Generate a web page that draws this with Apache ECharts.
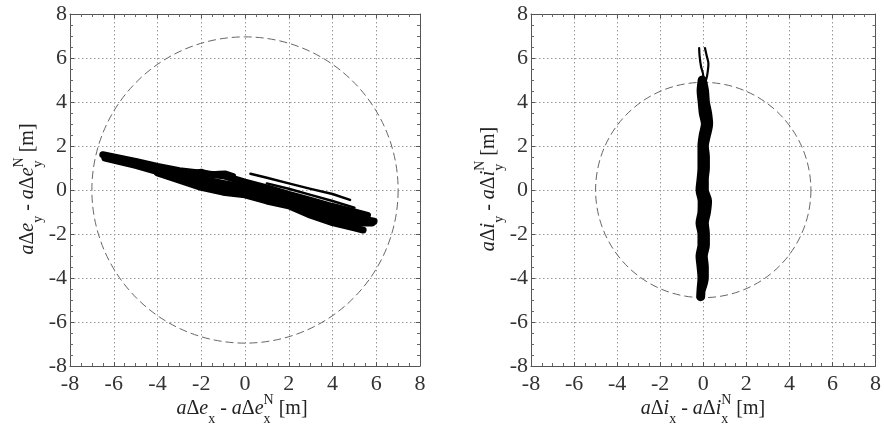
<!DOCTYPE html>
<html>
<head>
<meta charset="utf-8">
<script src="https://cdn.jsdelivr.net/npm/echarts@6/dist/echarts.min.js"></script>
<style>
  html, body { margin: 0; padding: 0; background: #fff; }
  #main { width: 884px; height: 429px; }
</style>
</head>
<body>
<div id="main"></div>
<script>
// axis range and ticks (both panels)
var axisMin = -8, axisMax = 8, axisStep = 2;

// left panel: eccentricity vector relative error, overlapping tracks
var eTrackA = [[-6.5,1.6],[-5,1.3],[-4,1.07],[-3,0.88],[-2,0.76],[-1,0.65],[0,0.36],[1,0.1],[2,-0.2],[3,-0.47],[4,-0.75],[5,-1.0],[5.6,-1.15]];
var eTrackB = [[-6.4,1.5],[-5,1.2],[-4,0.95],[-3,0.7],[-2,0.5],[-1,0.3],[0,0.12],[1,-0.15],[2,-0.42],[3,-0.72],[4,-1.0],[5,-1.25],[5.9,-1.42]];
var eTrackC = [[-6.4,1.45],[-5,1.12],[-4,0.84],[-3,0.55],[-2,0.28],[-1,0.05],[0,-0.14],[1,-0.38],[2,-0.62],[3,-0.95],[4,-1.25],[5,-1.5],[5.8,-1.5]];
var eTrackD = [[-4,0.78],[-3,0.45],[-2,0.12],[-1,-0.1],[0,-0.22],[1,-0.5],[2,-0.72],[3,-1.15],[4,-1.48],[5,-1.72],[5.4,-1.82]];
var eBump = [[-2.3,0.82],[-2,0.88],[-1.6,0.75],[-1.2,0.78],[-0.9,0.8],[-0.5,0.66]];
var eThin1 = [[0.25,0.74],[1,0.56],[2,0.3],[3,0.05],[4,-0.18],[4.8,-0.45]];
var eThin2 = [[1.0,0.3],[2,0.06],[3,-0.22],[4,-0.5],[5,-0.8]];
var eCircle = [[0, 0, 7]];

// right panel: inclination vector relative error
var iTrack1 = [[-0.05,5.0],[-0.1,4.5],[-0.05,4.0],[0.0,3.5],[0.1,3.0],[0.0,2.5],[-0.06,2.0],[-0.06,1.5],[-0.06,1.0],[-0.1,0.5],[-0.15,0.0],[-0.05,-0.5],[-0.06,-1.0],[-0.15,-1.5],[-0.06,-2.0],[-0.06,-2.5],[-0.15,-3.0],[-0.1,-3.5],[-0.06,-4.0],[-0.1,-4.5],[-0.12,-4.85]];
var iTrack2 = [[-0.02,4.9],[0.06,4.5],[0.1,4.0],[0.2,3.5],[0.25,3.0],[0.15,2.5],[0.05,2.0],[0.1,1.5],[0.1,1.0],[0.05,0.5],[0.05,0.0],[0.2,-0.5],[0.15,-1.0],[0.05,-1.5],[0.1,-2.0],[0.1,-2.5],[0.0,-3.0],[0.05,-3.5],[0.05,-4.0],[-0.08,-4.5]];
var iTail1 = [[-0.19,6.45],[-0.17,6.1],[-0.1,5.6],[0.0,5.2],[-0.05,4.9]];
var iTail2 = [[0.08,6.45],[0.16,6.1],[0.24,5.75],[0.18,5.2],[0.1,4.9]];
var iCircle = [[0, 0, 5]];

var serif = 'Liberation Serif, Times New Roman, DejaVu Serif, serif';
var chart = echarts.init(document.getElementById('main'));

function makeAxes(dim, gridIndex) {
    var main = {
        type: 'value', gridIndex: gridIndex, min: axisMin, max: axisMax, interval: axisStep,
        axisLine: { show: true, onZero: false, lineStyle: { color: '#555', width: 1 } },
        axisTick: { show: true, inside: true, length: 4, lineStyle: { color: '#555' } },
        minorTick: { show: true, splitNumber: 4, length: 3, lineStyle: { color: '#666' } },
        splitLine: { show: true, lineStyle: { color: '#999', type: [1.5, 2.5], width: 1 } },
        axisLabel: {
            fontFamily: serif, fontSize: 22, color: '#333',
            margin: dim === 'x' ? 7 : 3, showMinLabel: true, showMaxLabel: true
        },
        position: dim === 'x' ? 'bottom' : 'left'
    };
    var mirror = {
        type: 'value', gridIndex: gridIndex, min: axisMin, max: axisMax, interval: axisStep,
        axisLine: { show: true, onZero: false, lineStyle: { color: '#555', width: 1 } },
        axisTick: { show: true, inside: true, length: 4, lineStyle: { color: '#555' } },
        minorTick: { show: true, splitNumber: 4, length: 3, lineStyle: { color: '#666' } },
        splitLine: { show: false },
        axisLabel: { show: false },
        position: dim === 'x' ? 'top' : 'right'
    };
    return [main, mirror];
}

function track(data, axisIdx, width, smooth) {
    return {
        type: 'line', xAxisIndex: axisIdx, yAxisIndex: axisIdx, data: data,
        showSymbol: false, smooth: smooth || false, silent: true,
        lineStyle: { color: '#000', width: width, cap: 'round', join: 'round' }
    };
}

function circle(data, axisIdx) {
    return {
        type: 'custom', xAxisIndex: axisIdx, yAxisIndex: axisIdx, data: data, silent: true,
        renderItem: function (params, api) {
            var c = api.coord([api.value(0), api.value(1)]);
            var r = api.size([api.value(2), 0])[0];
            return {
                type: 'circle',
                shape: { cx: c[0], cy: c[1], r: r },
                style: { fill: 'none', stroke: '#666', lineWidth: 1, lineDash: [8, 4] }
            };
        }
    };
}

// text with italic letters, sub- and superscripts laid out piece by piece
var measure = document.createElement('canvas').getContext('2d');
function titleGroup(parts, cx, cy, rotation) {
    var x = 0, children = [];
    parts.forEach(function (p) {
        var font = (p.it ? 'italic ' : '') + p.size + 'px ' + serif;
        measure.font = font;
        children.push({
            type: 'text', x: x, y: p.dy || 0,
            style: { text: p.t, font: font, fill: '#222', align: 'left', verticalAlign: 'middle' }
        });
        if (!p.keep) x += measure.measureText(p.t).width;
    });
    children.forEach(function (c) { c.x -= x / 2; });
    return { type: 'group', x: cx, y: cy, rotation: rotation, children: children };
}

function titleParts(letter, sub) {
    var big = 20, small = 14;
    return [
        { t: 'a', it: true, size: big }, { t: 'Δ', size: big }, { t: letter, it: true, size: big },
        { t: sub, size: small, dy: 10 }, { t: ' - ', size: big },
        { t: 'a', it: true, size: big }, { t: 'Δ', size: big }, { t: letter, it: true, size: big },
        { t: sub, size: small, dy: 10, keep: true }, { t: 'N', size: small, dy: -9 },
        { t: ' [m]', size: big }
    ];
}

var left = makeAxes('x', 0), right = makeAxes('x', 1);
var leftY = makeAxes('y', 0), rightY = makeAxes('y', 1);

var option = {
    backgroundColor: '#fff',
    animation: false,
    grid: [
        { left: 70, top: 14, width: 350, height: 352 },
        { left: 531, top: 14, width: 346, height: 352 }
    ],
    xAxis: [left[0], right[0], left[1], right[1]],
    yAxis: [leftY[0], rightY[0], leftY[1], rightY[1]],
    series: [
        circle(eCircle, 0),
        track(eTrackA, 0, 7), track(eTrackB, 0, 7), track(eTrackC, 0, 7),
        track(eTrackD, 0, 7), track(eBump, 0, 4),
        track(eThin1, 0, 2.5), track(eThin2, 0, 2.5),
        circle(iCircle, 1),
        track(iTrack1, 1, 9, 0.3), track(iTrack2, 1, 9, 0.3),
        track(iTail1, 1, 2.2, 0.3), track(iTail2, 1, 2.2, 0.3)
    ],
    graphic: [
        titleGroup(titleParts('e', 'x'), 242, 409, 0),
        titleGroup(titleParts('e', 'y'), 28, 189, Math.PI / 2),
        titleGroup(titleParts('i', 'x'), 703, 409, 0),
        titleGroup(titleParts('i', 'y'), 489, 189, Math.PI / 2)
    ]
};

chart.setOption(option);
</script>
</body>
</html>
